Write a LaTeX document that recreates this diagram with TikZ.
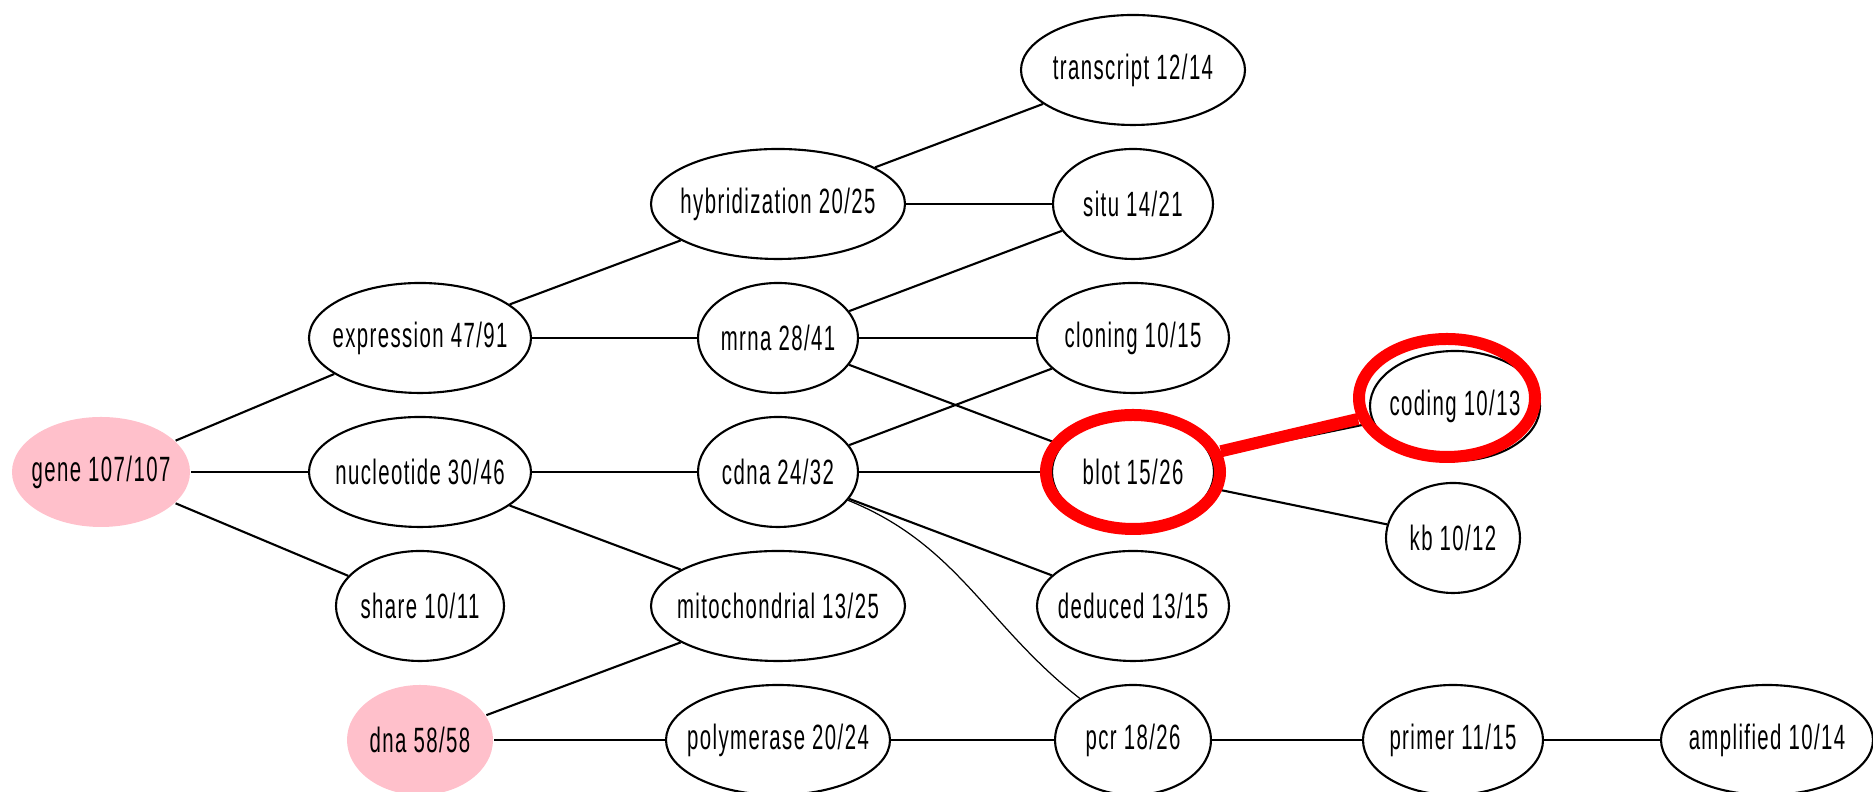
\documentclass[tikz,border=0pt]{standalone}
\usepackage{fontspec}
\setmainfont{Liberation Sans}[FakeStretch=0.58, LetterSpace=4]
\usetikzlibrary{shapes,positioning}
\definecolor{seedpink}{RGB}{255,192,203}

\begin{document}
\begin{tikzpicture}[
    node distance=1.34cm and 3.19cm, on grid,
    term/.style={ellipse, draw, line width=0.6pt, minimum height=1.1cm, inner xsep=-0.2cm, inner ysep=0pt, font=\fontsize{10}{12}\selectfont},
    seed/.style={term, draw=none, fill=seedpink},
    link/.style={line width=0.6pt},
    ring/.style={ellipse, draw=red, line width=0.12cm, inner sep=0pt}
]
    \useasboundingbox (-1.01,-3.20) rectangle (17.72,4.72);

    \node[seed, minimum width=1.78cm] (gene) {gene 107/107};
    \node[term, minimum width=2.22cm, right=of gene] (nucleotide) {nucleotide 30/46};
    \node[term, minimum width=2.22cm, above=of nucleotide] (expression) {expression 47/91};
    \node[term, minimum width=1.68cm, below=of nucleotide] (share) {share 10/11};
    \node[seed, minimum width=1.46cm, below=of share] (dna) {dna 58/58};

    \node[term, minimum width=1.60cm, right=3.58cm of nucleotide] (cdna) {cdna 24/32};
    \node[term, minimum width=1.60cm, above=of cdna] (mrna) {mrna 28/41};
    \node[term, minimum width=2.54cm, above=of mrna] (hybridization) {hybridization 20/25};
    \node[term, minimum width=2.54cm, below=of cdna] (mitochondrial) {mitochondrial 13/25};
    \node[term, minimum width=2.24cm, below=of mitochondrial] (polymerase) {polymerase 20/24};

    \node[term, minimum width=1.62cm, right=3.55cm of cdna] (blot) {blot 15/26};
    \node[term, minimum width=1.92cm, above=of blot] (cloning) {cloning 10/15};
    \node[term, minimum width=1.60cm, above=of cloning] (situ) {situ 14/21};
    \node[term, minimum width=2.24cm, above=of situ] (transcript) {transcript 12/14};
    \node[term, minimum width=1.92cm, below=of blot] (deduced) {deduced 13/15};
    \node[term, minimum width=1.56cm, below=of deduced] (pcr) {pcr 18/26};

    \node[term, minimum width=1.70cm, above right=0.66cm and 3.22cm of blot] (coding) {coding 10/13};
    \node[term, minimum width=1.34cm, below right=0.66cm and 3.20cm of blot] (kb) {kb 10/12};
    \node[term, minimum width=1.80cm, right=3.20cm of pcr] (primer) {primer 11/15};
    \node[term, minimum width=2.12cm, right=3.14cm of primer] (amplified) {amplified 10/14};

    % links
    \draw[link] (gene) -- (expression);
    \draw[link] (gene) -- (nucleotide);
    \draw[link] (gene) -- (share);
    \draw[link] (expression) -- (hybridization);
    \draw[link] (expression) -- (mrna);
    \draw[link] (nucleotide) -- (cdna);
    \draw[link] (nucleotide) -- (mitochondrial);
    \draw[link] (dna) -- (mitochondrial);
    \draw[link] (dna) -- (polymerase);
    \draw[link] (hybridization) -- (transcript);
    \draw[link] (hybridization) -- (situ);
    \draw[link] (mrna) -- (situ);
    \draw[link] (mrna) -- (cloning);
    \draw[link] (mrna) -- (blot);
    \draw[link] (cdna) -- (cloning);
    \draw[link] (cdna) -- (blot);
    \draw[link] (cdna) -- (deduced);
    \draw[line width=0.35pt] (cdna) to[out=-22, in=142] (pcr);
    \draw[link] (polymerase) -- (pcr);
    \draw[link] (blot) -- (coding);
    \draw[link] (blot) -- (kb);
    \draw[link] (pcr) -- (primer);
    \draw[link] (primer) -- (amplified);

    % highlight
    \node[ring, minimum width=1.74cm, minimum height=1.14cm] (blotring) at (blot) {};
    \node[ring, minimum width=1.76cm, minimum height=1.18cm, xshift=-0.08cm, yshift=0.08cm] (codingring) at (coding) {};
    \draw[red, line width=0.12cm] (blotring) -- (codingring);
\end{tikzpicture}
\end{document}
